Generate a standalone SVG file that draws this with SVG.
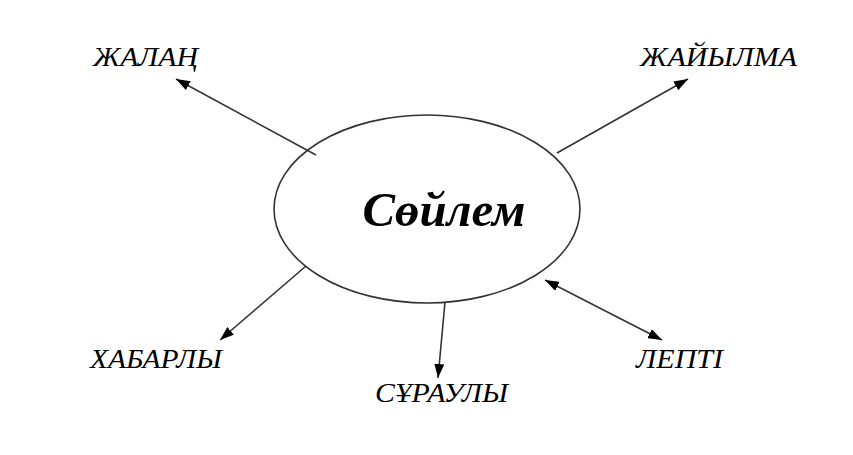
<svg xmlns="http://www.w3.org/2000/svg" width="853" height="455" viewBox="0 0 853 455">
<style>
.lbl{font-family:"Liberation Serif","Times New Roman",serif;font-style:italic;font-size:27px;fill:#000}
.edge{stroke:#333;stroke-width:1.6;fill:none}
</style>
<defs>
<marker id="ah" viewBox="0 0 14 10" refX="14" refY="5" markerWidth="14" markerHeight="10" markerUnits="userSpaceOnUse" orient="auto-start-reverse">
<path d="M0,0 L14,5 L0,10 Z" fill="#000"/>
</marker>
</defs>
<rect width="853" height="455" fill="#fff"/>
<g id="connectors">
<line class="edge" x1="316" y1="155" x2="176" y2="79" marker-end="url(#ah)"/>
<line class="edge" x1="557" y1="153" x2="688" y2="79" marker-end="url(#ah)"/>
<line class="edge" x1="306" y1="266" x2="220" y2="340" marker-end="url(#ah)"/>
<line class="edge" x1="445" y1="302" x2="438" y2="378" marker-end="url(#ah)"/>
<line class="edge" x1="545" y1="280" x2="662" y2="340" marker-start="url(#ah)" marker-end="url(#ah)"/>
</g>
<g id="center">
<ellipse cx="427" cy="209" rx="153" ry="94" fill="none" stroke="#333" stroke-width="1.6"/>
<text x="444" y="226" text-anchor="middle" font-family="'Liberation Serif','Times New Roman',serif" font-style="italic" font-weight="bold" font-size="48" textLength="163" lengthAdjust="spacingAndGlyphs">Сөйлем</text>
</g>
<g id="n-zhalan"><text class="lbl" x="93" y="66" textLength="105" lengthAdjust="spacingAndGlyphs">ЖАЛАҢ</text></g>
<g id="n-zhaiylma"><text class="lbl" x="640" y="66" textLength="157" lengthAdjust="spacingAndGlyphs">ЖАЙЫЛМА</text></g>
<g id="n-khabarly"><text class="lbl" x="90" y="368" textLength="132" lengthAdjust="spacingAndGlyphs">ХАБАРЛЫ</text></g>
<g id="n-suraulu"><text class="lbl" x="375" y="402" textLength="133" lengthAdjust="spacingAndGlyphs">СҰРАУЛЫ</text></g>
<g id="n-lepti"><text class="lbl" x="636" y="368" textLength="87" lengthAdjust="spacingAndGlyphs">ЛЕПТІ</text></g>
</svg>
